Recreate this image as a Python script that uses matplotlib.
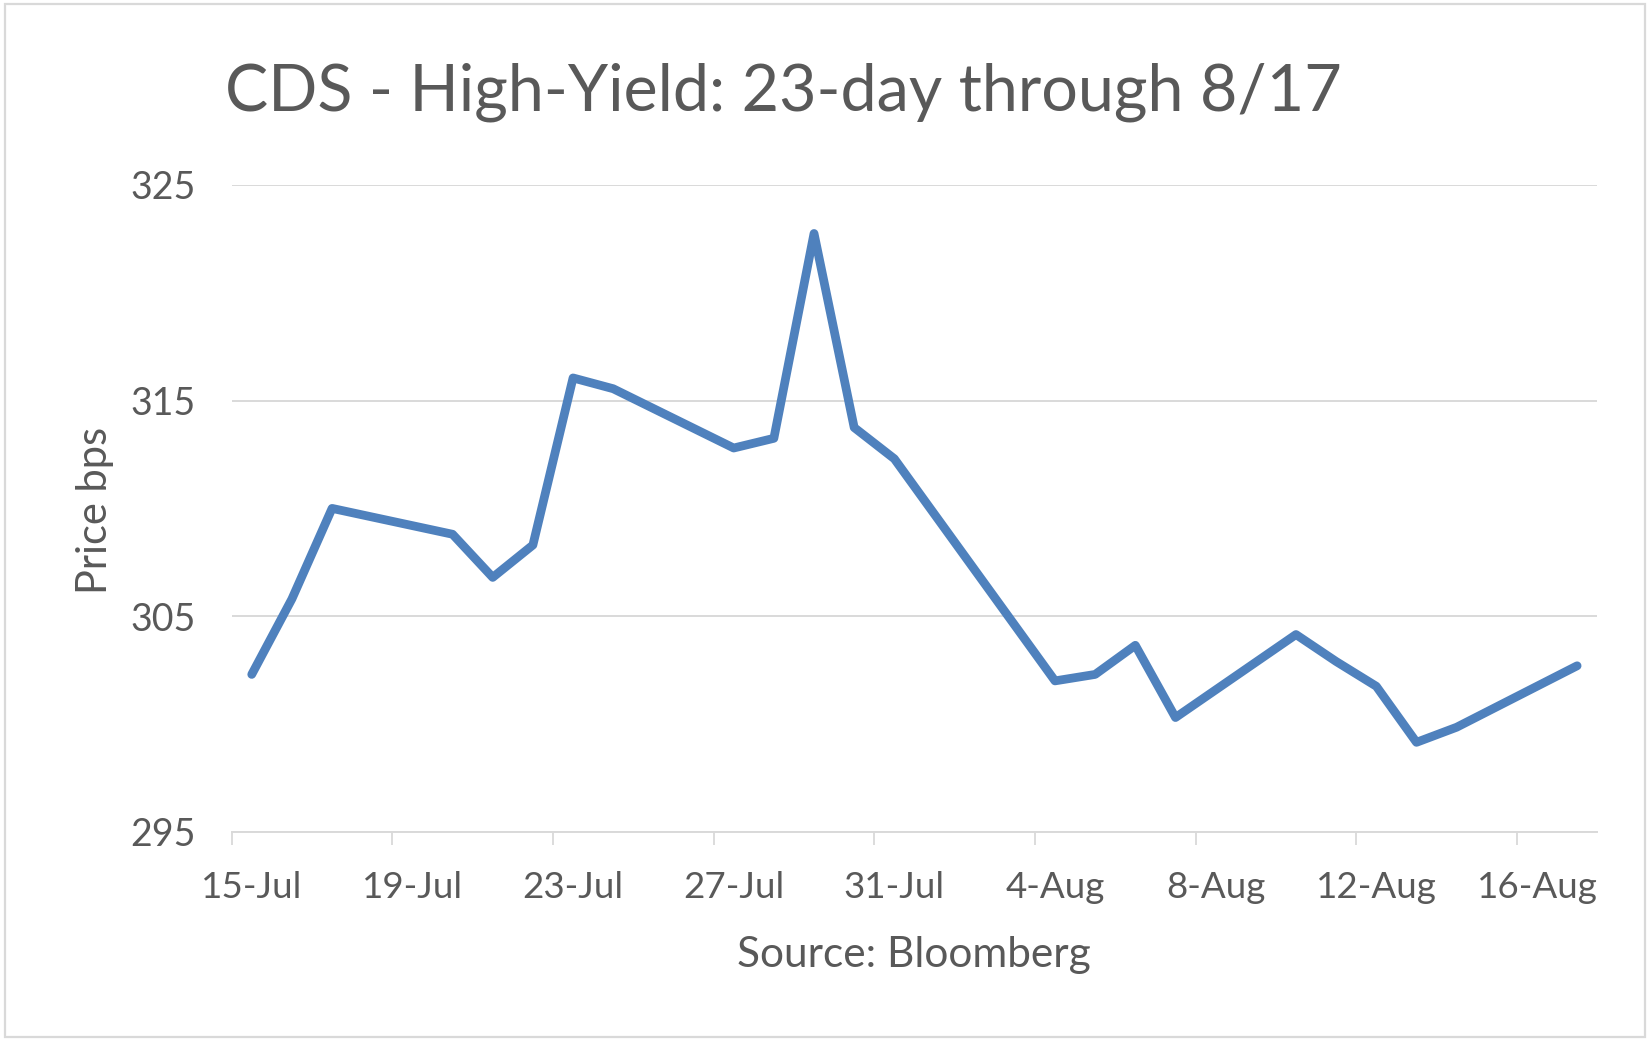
import datetime as dt
import matplotlib
matplotlib.use("Agg")
import matplotlib.pyplot as plt
import matplotlib.dates as mdates
from matplotlib.ticker import FixedLocator, FuncFormatter, NullFormatter
from matplotlib.patches import Rectangle

# data (2020, business days)
day_labels = ["15-Jul", "16-Jul", "17-Jul", "20-Jul", "21-Jul", "22-Jul", "23-Jul",
              "24-Jul", "27-Jul", "28-Jul", "29-Jul", "30-Jul", "31-Jul",
              "4-Aug", "5-Aug", "6-Aug", "7-Aug", "10-Aug", "11-Aug", "12-Aug",
              "13-Aug", "14-Aug", "17-Aug"]
cds_bps = [302.3, 305.8, 310.0, 308.8, 306.8, 308.3, 316.05,
           315.55, 312.8, 313.25, 322.75, 313.75, 312.3,
           302.0, 302.3, 303.65, 300.3, 304.15, 302.9, 301.75,
           299.15, 299.85, 302.7]
y_ticks = [295, 305, 315, 325]

dates = [dt.datetime.strptime(s + "-2020", "%d-%b-%Y") for s in day_labels]

GREY = "#595959"
GRID = "#d9d9d9"
BLUE = "#4f81bd"
FONT = ["Lato", "DejaVu Sans"]
plt.rcParams["font.family"] = FONT

fig = plt.figure(figsize=(16.5, 10.45), dpi=100)
ax = fig.add_axes([0.1404, 0.204, 0.968 - 0.1404, 0.823 - 0.204])

ax.plot(dates, cds_bps, color=BLUE, lw=6.3, solid_capstyle="round", solid_joinstyle="round", zorder=3)

start = dt.datetime(2020, 7, 15)
half = dt.timedelta(hours=12)
ax.set_xlim(start - half, dt.datetime(2020, 8, 17) + half)
ax.set_ylim(295, 325)

major = [start + dt.timedelta(days=4 * k) for k in range(9)]
minor = [d - half for d in major]
ax.xaxis.set_major_locator(FixedLocator(mdates.date2num(major)))
ax.xaxis.set_major_formatter(FuncFormatter(
    lambda v, p: "%d-%s" % (mdates.num2date(v).day, mdates.num2date(v).strftime("%b"))))
ax.xaxis.set_minor_locator(FixedLocator(mdates.date2num(minor)))
ax.xaxis.set_minor_formatter(NullFormatter())
ax.tick_params(axis="x", which="major", length=0, pad=28, labelsize=26.5, labelcolor=GREY)
ax.tick_params(axis="x", which="minor", length=9.5, width=1.3, color=GRID, direction="out")

ax.set_yticks(y_ticks)
ax.tick_params(axis="y", length=0, pad=26, labelsize=27, labelcolor=GREY)
ax.yaxis.grid(True, color=GRID, lw=1.4)
ax.set_axisbelow(True)

for s in ["left", "right", "top"]:
    ax.spines[s].set_visible(False)
ax.spines["bottom"].set_color(GRID)
ax.spines["bottom"].set_linewidth(1.4)

fig.text(0.475, 0.894, "CDS - High-Yield: 23-day through 8/17", ha="center", va="baseline",
         fontsize=46.5, color=GREY)
fig.text(0.554, 0.086, "Source: Bloomberg", ha="center", va="center", fontsize=30.5, color=GREY)
fig.text(0.0575, 0.512, "Price bps", ha="center", va="center", rotation=90, fontsize=30, color=GREY)

fig.patches.append(Rectangle((5 / 1650, 8 / 1045), 1640 / 1650, 1033 / 1045, transform=fig.transFigure,
                             fill=False, edgecolor=GRID, lw=1.6))

fig.savefig("out.png", dpi=100)
